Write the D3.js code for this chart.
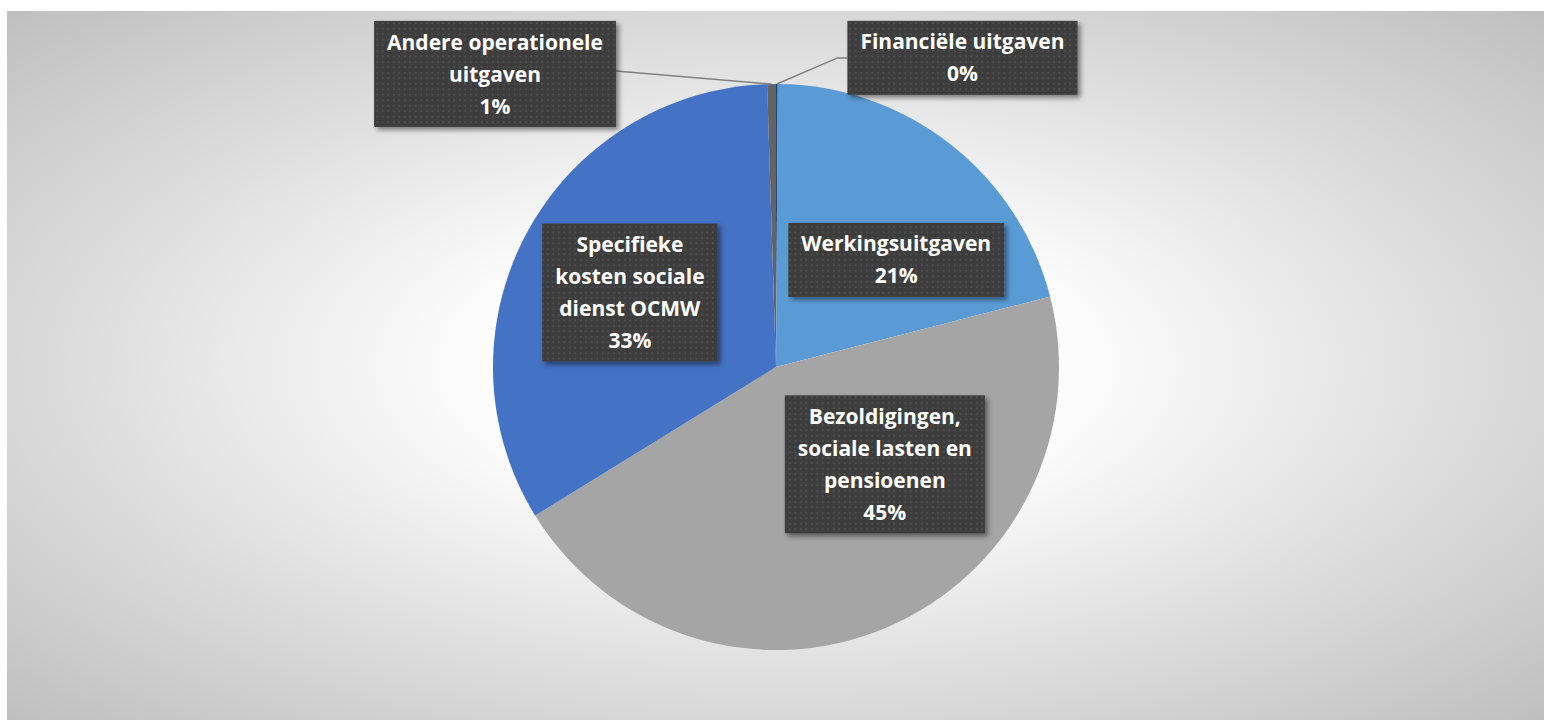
<!DOCTYPE html>
<html>
<head>
<meta charset="utf-8">
<title>Uitgaven</title>
<style>
  html, body { margin: 0; padding: 0; background: #ffffff; }
  svg { display: block; }
  .lbl text { font-family: 'Open Sans', Lato, sans-serif; font-weight: 700; fill: #ffffff; }
</style>
</head>
<body>
<div id="chart"></div>
<script src="https://d3js.org/d3.v7.min.js"></script>
<script>
// data
var categories = ["Financiële uitgaven", "Werkingsuitgaven", "Bezoldigingen, sociale lasten en pensioenen",
                  "Specifieke kosten sociale dienst OCMW", "Andere operationele uitgaven"];
var shares = [0.1, 20.9, 45.2, 33.3, 0.5];
var labelLines = [
  ["Financiële uitgaven"],
  ["Werkingsuitgaven"],
  ["Bezoldigingen,", "sociale lasten en", "pensioenen"],
  ["Specifieke", "kosten sociale", "dienst OCMW"],
  ["Andere operationele", "uitgaven"]
];
var colors = ["#264478", "#5b9bd5", "#a5a5a5", "#4472c4", "#636363"];

// label placement (polar, degrees clockwise from 12 o'clock, radius in px)
var labelPlace = [
  {angle: 31.1, r: 361, outside: true, side: "right"},
  {angle: 48.3, r: 161},
  {angle: 131.8, r: 146},
  {angle: 297, r: 164},
  {angle: 316.2, r: 406, outside: true, side: "left"}
];

var W = 1546, H = 720;
var frame = {x: 7, y: 11, w: 1537, h: 709};
var cx = 776, cy = 367, radius = 283;
var lineH = 32, padX = 13, padY = 5;

var svg = d3.select("#chart").append("svg")
  .attr("width", W).attr("height", H);

var defs = svg.append("defs");

var grad = defs.append("radialGradient").attr("id", "bg")
  .attr("cx", 0.5).attr("cy", 0.5).attr("r", 0.707);
[[0, "#ffffff"], [0.3, "#fbfbfb"], [0.65, "#dcdcdc"], [1, "#bfbfbf"]].forEach(function(s) {
  grad.append("stop").attr("offset", s[0]).attr("stop-color", s[1]);
});

var pat = defs.append("pattern").attr("id", "dots")
  .attr("width", 5.5).attr("height", 5.5).attr("patternUnits", "userSpaceOnUse");
pat.append("rect").attr("width", 5.5).attr("height", 5.5).attr("fill", "#3e3e3e");
pat.append("rect").attr("x", 2).attr("y", 2).attr("width", 1.6).attr("height", 1.6).attr("fill", "#545454");

var shadow = defs.append("filter").attr("id", "shadow")
  .attr("x", "-20%").attr("y", "-20%").attr("width", "140%").attr("height", "140%");
shadow.append("feDropShadow").attr("dx", 3).attr("dy", 3).attr("stdDeviation", 2.5)
  .attr("flood-color", "#000").attr("flood-opacity", 0.45);

svg.append("rect")
  .attr("x", frame.x).attr("y", frame.y).attr("width", frame.w).attr("height", frame.h)
  .attr("fill", "url(#bg)");

var pie = d3.pie().sort(null).value(function(d) { return d; });
var arcs = pie(shares);
var arc = d3.arc().innerRadius(0).outerRadius(radius);

var g = svg.append("g").attr("transform", "translate(" + cx + "," + cy + ")");

g.selectAll("path.slice")
  .data(arcs)
  .enter().append("path")
  .attr("class", "slice")
  .attr("d", arc)
  .attr("fill", function(d, i) { return colors[i]; });

function polar(angleDeg, r) {
  var a = angleDeg * Math.PI / 180;
  return [r * Math.sin(a), -r * Math.cos(a)];
}

var pctFmt = function(v) { return Math.round(v / d3.sum(shares) * 100) + "%"; };

arcs.forEach(function(d, i) {
  var lines = labelLines[i].concat([pctFmt(shares[i])]);
  var place = labelPlace[i];
  var c = polar(place.angle, place.r);

  var lg = g.append("g").attr("class", "lbl");
  var texts = lg.selectAll("text").data(lines).enter().append("text")
    .attr("x", c[0])
    .attr("y", function(t, k) { return c[1] + (k - (lines.length - 1) / 2) * lineH; })
    .attr("dy", "0.36em")
    .attr("text-anchor", "middle")
    .style("font-size", "21px")
    .text(function(t) { return t; });

  var maxW = 0;
  texts.each(function() { maxW = Math.max(maxW, this.getComputedTextLength()); });
  var bw = maxW + 2 * padX, bh = lines.length * lineH + 2 * padY;

  lg.insert("rect", "text")
    .attr("x", c[0] - bw / 2).attr("y", c[1] - bh / 2)
    .attr("width", bw).attr("height", bh)
    .attr("fill", "url(#dots)")
    .attr("filter", "url(#shadow)");

  if (place.outside) {
    var mid = (d.startAngle + d.endAngle) / 2 * 180 / Math.PI;
    var p0 = polar(mid, radius);
    var pts;
    if (place.side === "right") {
      var bx = c[0] - bw / 2;
      pts = [p0, [bx - 10, c[1]], [bx, c[1]]];
    } else {
      pts = [p0, [c[0] + bw / 2, c[1] - 3]];
    }
    g.insert("path", ".lbl")
      .attr("d", d3.line()(pts))
      .attr("fill", "none")
      .attr("stroke", "#808080")
      .attr("stroke-width", 1.5);
  }
});
</script>
</body>
</html>
